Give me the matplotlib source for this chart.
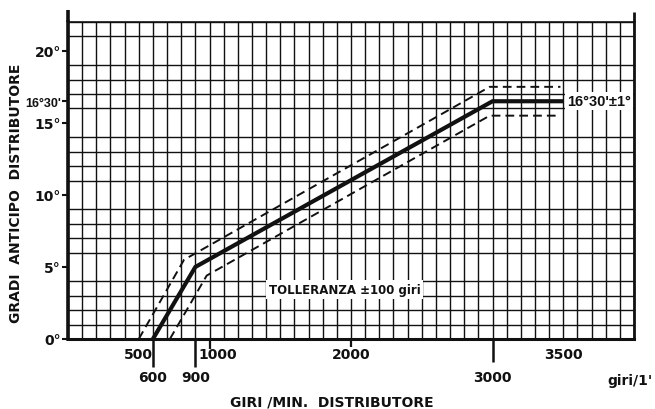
import matplotlib
matplotlib.use("Agg")
import matplotlib.pyplot as plt
import matplotlib.transforms as mtransforms
from matplotlib.ticker import MultipleLocator

# Ignition advance curve of the distributor (rpm -> degrees)
rpm_nominal = [600, 900, 3000, 3500]
adv_nominal = [0, 5, 16.5, 16.5]

# Tolerance band limits
rpm_upper = [500, 820, 2980, 3480]
adv_upper = [0, 5.5, 17.5, 17.5]
rpm_lower = [720, 980, 2980, 3480]
adv_lower = [0, 4.4, 15.5, 15.5]

# Axis annotations
y_ticks = [0, 5, 10, 15, 16.5, 20]
y_labels = ["0°", "5°", "10°", "15°", "16°30'", "20°"]
x_row1_ticks = [500, 1000, 2000, 3500]
x_row1_labels = ["500", "1000", "2000", "3500"]
x_row2_ticks = [600, 900, 3000]
x_row2_labels = ["600", "900", "3000"]

plt.rcParams["font.family"] = ["DejaVu Sans"]
plt.rcParams["font.weight"] = "bold"

INK = "#111111"

fig = plt.figure(figsize=(6.55, 4.10), dpi=100)
ax = fig.add_axes([68 / 655, 70 / 410, 566 / 655, 317 / 410])
ax.set_xlim(0, 4000)
ax.set_ylim(0, 22)

# graph-paper grid: every 100 rpm and every degree
ax.xaxis.set_minor_locator(MultipleLocator(100))
ax.yaxis.set_minor_locator(MultipleLocator(1))
ax.grid(which="minor", color=INK, linewidth=1.0)
ax.tick_params(which="minor", length=0)
ax.set_axisbelow(True)

# y ticks with degree labels
ax.set_yticks(y_ticks)
ax.set_yticklabels(y_labels)
ax.tick_params(axis="y", which="major", length=4, width=1.5, color=INK,
               pad=1, labelsize=10, labelcolor=INK)
for lab in ax.get_yticklabels():
    lab.set_fontweight("bold")
    if "30" in lab.get_text():
        lab.set_family(["Liberation Sans", "DejaVu Sans"])
        lab.set_fontsize(9)
ax.set_xticks([])

for side, lw in (("left", 2.6), ("bottom", 2.2), ("right", 2.0), ("top", 1.2)):
    ax.spines[side].set_linewidth(lw)
    ax.spines[side].set_color(INK)

# side rules run a little above the top line
ax.plot([0, 0], [22, 22.8], color=INK, lw=2.6, clip_on=False, solid_capstyle="butt")
ax.plot([4000, 4000], [22, 22.7], color=INK, lw=2.0, clip_on=False, solid_capstyle="butt")

# curves
ax.plot(rpm_upper, adv_upper, color=INK, lw=1.4, dashes=(4.5, 2.6), zorder=4)
ax.plot(rpm_lower, adv_lower, color=INK, lw=1.4, dashes=(4.5, 2.6), zorder=4)
ax.plot(rpm_nominal, adv_nominal, color=INK, lw=3.0, zorder=5,
        solid_joinstyle="miter", solid_capstyle="butt")

# x tick marks and labels below the axis (two staggered rows)
trans = mtransforms.blended_transform_factory(ax.transData, ax.transAxes)
px = 1 / 317.0
short_len = {500: 0, 1000: 10, 2000: 8, 3500: 0}
for x, lab in zip(x_row1_ticks, x_row1_labels):
    if short_len[x]:
        ax.plot([x, x], [0, -short_len[x] * px], color=INK, lw=1.6,
                transform=trans, clip_on=False, solid_capstyle="butt")
    ax.text(x + (60 if x == 1000 else 0), -15 * px, lab, transform=trans,
            ha="center", va="center", fontsize=10, color=INK, fontweight="bold")
long_len = {600: 28, 900: 28, 3000: 23}
for x, lab in zip(x_row2_ticks, x_row2_labels):
    ax.plot([x, x], [0, -long_len[x] * px], color=INK, lw=1.8,
            transform=trans, clip_on=False, solid_capstyle="butt")
    ax.text(x, -38 * px, lab, transform=trans, ha="center", va="center",
            fontsize=10, color=INK, fontweight="bold")

fig.text(630 / 655, 1 - 381 / 410, "giri/1'", ha="center", va="center",
         fontsize=10, color=INK, fontweight="bold")

# annotations
ax.text(3525, 16.5, "16°30'±1°", ha="left", va="center", fontsize=10.5,
        color=INK, fontweight="bold", zorder=6,
        family=["Liberation Sans", "DejaVu Sans"],
        bbox=dict(facecolor="white", edgecolor="none", pad=1.5))
ax.text(1955, 3.45, "TOLLERANZA ±100 giri", ha="center", va="center",
        fontsize=8.5, color=INK, fontweight="bold", zorder=6,
        bbox=dict(facecolor="white", edgecolor="none", pad=2.0))

fig.text(332 / 655, 1 - 403 / 410, "GIRI /MIN.  DISTRIBUTORE", ha="center",
         va="center", fontsize=10, color=INK, fontweight="bold")
fig.text(16 / 655, 1 - 193 / 410, "GRADI  ANTICIPO  DISTRIBUTORE", ha="center",
         va="center", rotation=90, fontsize=10, color=INK, fontweight="bold")

fig.savefig("out.png", dpi=100, facecolor="white")
